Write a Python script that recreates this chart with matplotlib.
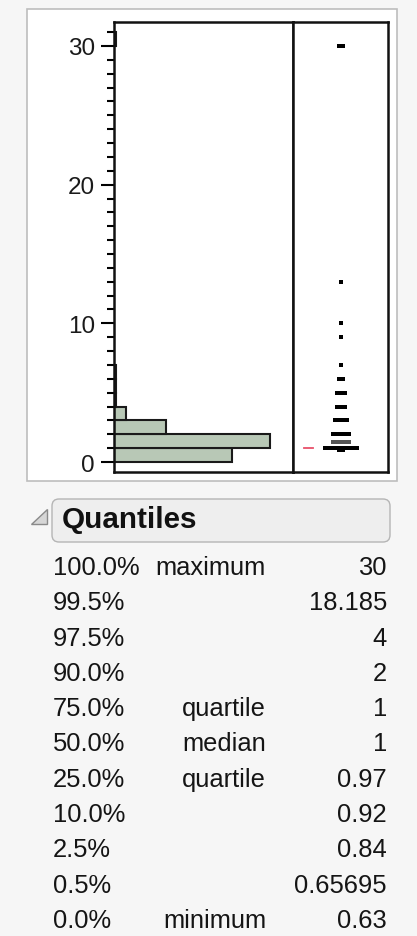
import numpy as np
import matplotlib.pyplot as plt
from matplotlib.patches import Rectangle, FancyBboxPatch, Polygon

plt.rcParams['font.family'] = ['Liberation Sans', 'DejaVu Sans']

# ── Data ─────────────────────────────────────────────────────────────────────
# histogram: lower bin edge (width 1) and bar length (counts)
bin_starts = [0, 1, 2, 3, 4, 5, 6, 30]
bin_counts = [118, 156, 52, 12, 2, 2, 2, 2]

# outlier plot: value of each row of points and how many points sit side by side
pt_values = [30, 13, 10, 9, 7, 6, 5, 4, 3, 2, 1.45, 1, 0.88]
pt_counts = [2, 1, 1, 1, 1, 2, 3, 3, 4, 5, 5, 9, 2]

# quantiles table
quant_pcts = ["100.0%", "99.5%", "97.5%", "90.0%", "75.0%", "50.0%",
              "25.0%", "10.0%", "2.5%", "0.5%", "0.0%"]
quant_labels = ["maximum", "", "", "", "quartile", "median",
                "quartile", "", "", "", "minimum"]
quant_values = [30, 18.185, 4, 2, 1, 1, 0.97, 0.92, 0.84, 0.65695, 0.63]

# ── Figure in pixel coordinates ──────────────────────────────────────────────
W, H = 417, 937
fig = plt.figure(figsize=(W / 100, H / 100), dpi=100, facecolor='#f6f6f6')


def px_axes(x0, y0, x1, y1, **kw):
    return fig.add_axes([x0 / W, 1 - y1 / H, (x1 - x0) / W, (y1 - y0) / H], **kw)


bg = px_axes(0, 0, W, H, zorder=0)
bg.set_xlim(0, W)
bg.set_ylim(H, 0)
bg.axis('off')
bg.add_patch(Rectangle((27, 10), 370, 472, facecolor='white',
                       edgecolor='#bdbdbd', lw=1.2))

ylo, yhi = -0.72, 31.73

# histogram panel
ax = px_axes(114, 23, 293, 473, zorder=2)
ax.barh(bin_starts, bin_counts, height=1, align='edge',
        color='#b8c8b6', edgecolor='#1a1a1a', lw=1.5)
ax.set_ylim(ylo, yhi)
ax.set_xlim(0, 179)
ax.set_xticks([])
ax.set_yticks([0, 10, 20, 30])
ax.set_yticks(np.arange(0, 32), minor=True)
ax.tick_params(axis='y', which='major', length=9.4, width=1.5, pad=4.3,
               labelsize=17.5, labelcolor='#1a1a1a')
ax.tick_params(axis='y', which='minor', length=5, width=1.5)
for s in ax.spines.values():
    s.set_linewidth(1.8)
    s.set_color('#111111')

# outlier point panel
ax2 = px_axes(293, 23, 388, 473, zorder=2)
ax2.set_ylim(ylo, yhi)
ax2.set_xlim(0, 95)
ax2.set_xticks([])
ax2.set_yticks([])
for s in ax2.spines.values():
    s.set_linewidth(1.8)
    s.set_color('#111111')

for v, c in zip(pt_values, pt_counts):
    xs = 47.5 + (np.arange(c) - (c - 1) / 2) * 4
    col = '#555555' if v == 1.45 else 'black'
    ax2.scatter(xs, [v] * c, marker='s', s=11, color=col, lw=0, zorder=3)

# red median mark
ax2.plot([11, 20], [quant_values[5]] * 2, color='#e8506a', lw=1.3)

# ── Quantiles table ──────────────────────────────────────────────────────────
bg.add_patch(FancyBboxPatch((52, 500), 338, 43,
                            boxstyle='round,pad=0,rounding_size=7',
                            fc='#eeeeee', ec='#b5b5b5', lw=1))
bg.add_patch(Polygon([(31, 525), (47, 525), (47, 510)], closed=True,
                     fc='#d6d6d6', ec='#8a8a8a', lw=1))
bg.text(62, 528, 'Quantiles', fontsize=21.3, fontweight='bold',
        va='baseline', ha='left', color='#111111')

for i, (p, lab, v) in enumerate(zip(quant_pcts, quant_labels, quant_values)):
    y = 575 + 35.3 * i
    bg.text(53, y, p, fontsize=18.4, va='baseline', ha='left', color='#151515')
    bg.text(266, y, lab, fontsize=18.4, va='baseline', ha='right', color='#151515')
    bg.text(387, y, f"{v:g}", fontsize=18.4, va='baseline', ha='right', color='#151515')

fig.savefig('out.png', dpi=100, facecolor=fig.get_facecolor())
